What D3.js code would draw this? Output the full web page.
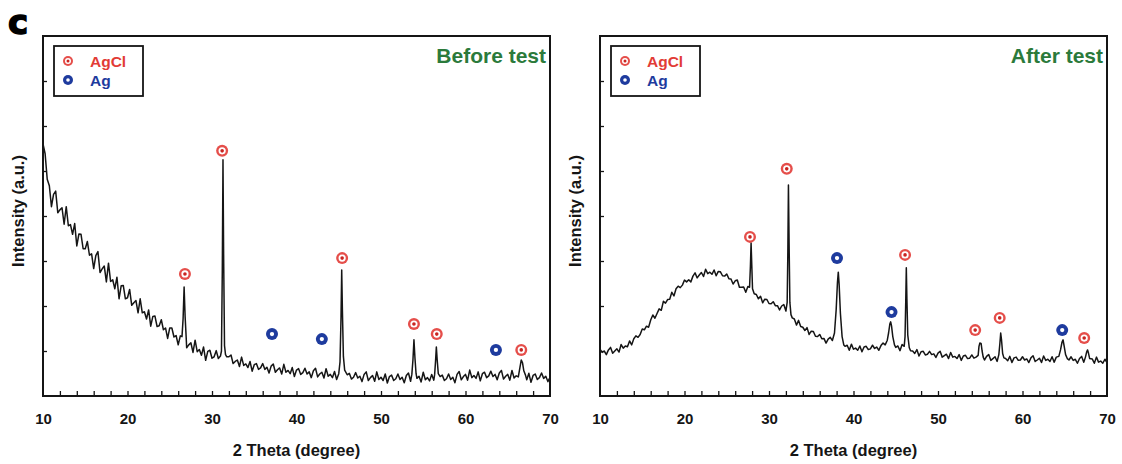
<!DOCTYPE html>
<html>
<head>
<meta charset="utf-8">
<script src="https://cdn.jsdelivr.net/npm/d3@7"></script>
<style>
  html, body { margin: 0; padding: 0; background: #fff; }
  svg text { font-family: "Liberation Sans", Arial, sans-serif; font-weight: bold; }
</style>
</head>
<body>
<svg id="chart" width="1122" height="464"></svg>
<script>
// XRD scans: [2 theta, intensity (a.u.)]
const beforeScan = [[10,70.0],[10.25,67.3],[10.5,60.2],[10.75,58.4],[11,52.6],[11.25,56.0],[11.5,56.9],[11.75,50.9],[12,51.7],[12.25,52.3],[12.5,47.7],[12.75,52.6],[13,47.3],[13.25,47.6],[13.5,44.9],[13.75,47.9],[14,41.7],[14.25,45.0],[14.5,44.9],[14.75,40.9],[15,40.9],[15.25,42.9],[15.5,39.1],[15.75,39.5],[16,35.4],[16.25,39.0],[16.5,40.1],[16.75,34.3],[17,35.3],[17.25,36.1],[17.5,31.7],[17.75,36.9],[18,31.8],[18.25,32.3],[18.5,29.8],[18.75,33.0],[19,27.0],[19.25,30.6],[19.5,30.7],[19.75,27.0],[20,27.3],[20.25,29.6],[20.5,25.2],[20.75,25.9],[21,26.5],[21.25,23.1],[21.5,27.0],[21.75,23.1],[22,23.4],[22.25,21.4],[22.5,23.9],[22.75,19.4],[23,22.1],[23.25,22.2],[23.5,19.3],[23.75,19.5],[24,21.2],[24.25,18.4],[24.5,18.9],[24.75,16.0],[25,18.9],[25.25,18.9],[25.5,16.4],[25.75,16.8],[26,14.2],[26.25,16.7],[26.45,16.5],[26.58,21.5],[26.7,30.3],[26.82,22.0],[26.95,16.0],[27,13.4],[27.25,14.2],[27.5,14.8],[27.75,12.1],[28,15.5],[28.25,12.3],[28.5,12.9],[28.75,11.3],[29,13.6],[29.25,9.9],[29.5,12.4],[29.75,12.7],[30,10.5],[30.25,10.9],[30.5,12.6],[30.75,10.4],[31,11.1],[31.12,12.5],[31.22,35.0],[31.3,65.6],[31.38,38.0],[31.48,14.0],[31.6,11.5],[31.75,10.9],[32,10.9],[32.25,11.4],[32.5,9.0],[32.75,9.6],[33,10.0],[33.25,8.2],[33.5,10.8],[33.75,8.5],[34,8.9],[34.25,7.9],[34.5,9.6],[34.75,6.9],[35,8.7],[35.25,9.0],[35.5,7.4],[35.75,7.8],[36,9.0],[36.25,7.4],[36.5,8.0],[36.75,6.4],[37,8.3],[37.25,8.9],[37.5,6.6],[37.75,7.3],[38,7.8],[38.25,6.1],[38.5,8.8],[38.75,6.6],[39,7.1],[39.25,6.2],[39.5,7.9],[39.75,5.4],[40,7.2],[40.25,7.6],[40.5,6.0],[40.75,6.5],[41,7.7],[41.25,6.1],[41.5,6.7],[41.75,5.1],[42,7.0],[42.25,7.7],[42.5,5.3],[42.75,6.1],[43,6.6],[43.25,5.0],[43.5,7.6],[43.75,5.5],[44,6.0],[44.25,5.1],[44.5,6.8],[44.75,4.6],[45,6.2],[45.15,9.5],[45.27,22.0],[45.35,35.0],[45.43,24.0],[45.55,11.0],[45.7,7.2],[46,5.9],[46.25,6.3],[46.5,4.7],[46.75,5.2],[47,6.5],[47.25,5.0],[47.5,5.5],[47.75,4.0],[48,6.0],[48.25,6.7],[48.5,4.3],[48.75,5.1],[49,5.7],[49.25,4.1],[49.5,6.7],[49.75,4.6],[50,5.2],[50.25,4.3],[50.5,6.1],[50.75,3.6],[51,5.4],[51.25,5.8],[51.5,4.3],[51.75,4.8],[52,6.1],[52.25,4.6],[52.5,5.2],[52.75,3.7],[53,5.7],[53.25,6.4],[53.5,4.1],[53.65,6.0],[53.78,10.0],[53.9,15.6],[54.02,10.5],[54.15,6.2],[54.25,4.9],[54.5,5.5],[54.75,3.9],[55,6.6],[55.25,4.5],[55.5,5.1],[55.75,4.2],[56,6.0],[56.25,4.4],[56.35,6.0],[56.45,9.5],[56.55,13.6],[56.65,10.0],[56.78,6.2],[57,5.4],[57.25,5.8],[57.5,4.3],[57.75,4.8],[58,6.1],[58.25,4.6],[58.5,5.2],[58.75,3.7],[59,6.0],[59.25,6.8],[59.5,4.5],[59.75,5.4],[60,6.0],[60.25,4.4],[60.5,7.2],[60.75,5.1],[61,5.7],[61.25,4.9],[61.5,6.7],[61.75,4.2],[62,6.2],[62.25,6.6],[62.5,5.1],[62.75,5.6],[63,6.9],[63.25,5.4],[63.5,6.0],[63.75,4.5],[64,6.4],[64.25,7.1],[64.5,4.7],[64.75,5.5],[65,6.0],[65.25,4.4],[65.5,7.1],[65.75,5.0],[66,5.6],[66.25,5.3],[66.45,8.0],[66.6,10.0],[66.75,9.2],[66.9,7.0],[67.1,5.8],[67.25,4.5],[67.5,6.3],[67.75,3.8],[68,5.7],[68.25,6.1],[68.5,4.6],[68.75,5.1],[69,6.4],[69.25,4.9],[69.5,5.5],[69.75,4.0],[70,5.2]];

const afterScan = [[10,13.0],[10.25,12.1],[10.5,12.5],[10.75,11.5],[11,12.8],[11.25,13.5],[11.5,11.9],[11.75,12.5],[12,13.1],[12.25,12.2],[12.5,14.3],[12.75,13.3],[13,13.9],[13.25,13.7],[13.5,15.3],[13.75,14.2],[14,15.9],[14.25,16.7],[14.5,16.3],[14.75,17.1],[15,18.6],[15.25,18.4],[15.5,19.4],[15.75,19.1],[16,21.1],[16.25,22.5],[16.5,21.6],[16.75,22.9],[17,24.2],[17.25,23.8],[17.5,26.3],[17.75,25.8],[18,26.8],[18.25,26.9],[18.5,28.8],[18.75,27.8],[19,29.8],[19.25,30.5],[19.5,30.1],[19.75,30.8],[20,32.2],[20.25,31.7],[20.5,32.3],[20.75,31.7],[21,33.3],[21.25,34.2],[21.5,32.8],[21.75,33.6],[22,34.3],[22.25,33.2],[22.5,35.2],[22.75,34.0],[23,34.4],[23.25,33.8],[23.5,35.0],[23.75,33.4],[24,34.6],[24.25,34.5],[24.5,33.4],[24.75,33.3],[25,33.9],[25.25,32.6],[25.5,32.5],[25.75,31.1],[26,32.0],[26.25,32.2],[26.5,30.2],[26.75,30.2],[27,30.3],[27.25,28.8],[27.5,30.4],[27.7,30.2],[27.8,36.0],[27.88,42.5],[27.96,36.5],[28.05,29.8],[28.25,28.4],[28.5,28.2],[28.75,27.0],[29,27.7],[29.25,25.9],[29.5,26.9],[29.75,26.8],[30,25.7],[30.25,25.6],[30.5,26.2],[30.75,25.1],[31,25.1],[31.25,23.9],[31.5,25.0],[31.75,25.4],[32,23.6],[32.15,26.0],[32.23,40.0],[32.3,58.6],[32.38,42.0],[32.47,26.0],[32.6,22.6],[32.75,21.7],[33,21.4],[33.25,19.7],[33.5,21.0],[33.75,19.3],[34,19.1],[34.25,18.2],[34.5,19.0],[34.75,17.1],[35,18.0],[35.25,17.9],[35.5,16.6],[35.75,16.5],[36,17.1],[36.25,15.9],[36.5,16.0],[36.75,14.7],[37,15.8],[37.25,16.3],[37.5,15.4],[37.75,17.5],[37.95,24.0],[38.1,31.5],[38.2,34.4],[38.3,31.0],[38.45,23.0],[38.65,16.5],[38.85,14.2],[39,13.8],[39.25,14.1],[39.5,12.7],[39.75,14.4],[40,13.0],[40.25,13.3],[40.5,12.7],[40.75,13.9],[41,12.3],[41.25,13.6],[41.5,13.8],[41.75,12.9],[42,13.1],[42.25,14.1],[42.5,13.2],[42.75,13.6],[43,12.7],[43.25,14.0],[43.5,14.7],[43.75,14.2],[44,15.5],[44.15,17.5],[44.3,20.0],[44.4,20.6],[44.5,19.5],[44.65,16.5],[44.85,14.2],[45,13.5],[45.25,13.9],[45.5,12.6],[45.75,14.3],[46,13.8],[46.1,16.5],[46.18,26.0],[46.25,35.6],[46.32,27.0],[46.42,17.0],[46.6,13.4],[46.75,12.6],[47,12.5],[47.25,11.8],[47.5,12.9],[47.75,11.1],[48,12.3],[48.25,12.4],[48.5,11.4],[48.75,11.6],[49,12.4],[49.25,11.5],[49.5,11.7],[49.75,10.7],[50,11.9],[50.25,12.4],[50.5,10.8],[50.75,11.2],[51,11.6],[51.25,10.4],[51.5,12.1],[51.75,10.8],[52,11.0],[52.25,10.4],[52.5,11.5],[52.75,9.9],[53,11.1],[53.25,11.3],[53.5,10.4],[53.75,10.5],[54,11.4],[54.25,10.5],[54.5,10.8],[54.75,11.3],[54.85,13.8],[54.95,14.7],[55.1,14.6],[55.22,12.5],[55.35,10.8],[55.5,10.0],[55.75,11.0],[56,11.5],[56.25,9.9],[56.5,10.4],[56.75,10.9],[57,9.6],[57.2,11.5],[57.32,14.5],[57.42,17.5],[57.52,15.5],[57.65,11.8],[57.8,10.6],[58,10.4],[58.25,9.8],[58.5,11.0],[58.75,9.3],[59,10.6],[59.25,10.8],[59.5,9.9],[59.75,10.0],[60,10.9],[60.25,10.0],[60.5,10.3],[60.75,9.3],[61,10.6],[61.25,11.2],[61.5,9.6],[61.75,10.0],[62,10.5],[62.25,9.3],[62.5,11.1],[62.75,9.9],[63,10.2],[63.25,9.6],[63.5,10.9],[63.75,9.4],[64,10.8],[64.3,11.0],[64.5,12.8],[64.68,15.0],[64.8,15.6],[64.92,14.0],[65.1,11.5],[65.3,10.4],[65.5,10.0],[65.75,10.9],[66,9.9],[66.25,10.2],[66.5,9.1],[66.75,10.4],[67,11.0],[67.25,9.4],[67.45,10.8],[67.6,12.3],[67.7,12.8],[67.8,12.0],[67.95,10.4],[68.25,10.3],[68.5,9.1],[68.75,10.8],[69,9.4],[69.25,9.7],[69.5,9.1],[69.75,10.2],[70,9.3]];

// phase labels placed above the reflections
const beforeMarks = [
  {phase: "AgCl", theta: 26.8, level: 33.9},
  {phase: "AgCl", theta: 31.2, level: 68.1},
  {phase: "Ag",   theta: 37.1, level: 17.2},
  {phase: "Ag",   theta: 43.0, level: 15.8},
  {phase: "AgCl", theta: 45.4, level: 38.3},
  {phase: "AgCl", theta: 53.9, level: 20.0},
  {phase: "AgCl", theta: 56.6, level: 17.2},
  {phase: "Ag",   theta: 63.6, level: 12.8},
  {phase: "AgCl", theta: 66.6, level: 12.8}
];
const afterMarks = [
  {phase: "AgCl", theta: 27.75, level: 44.2},
  {phase: "AgCl", theta: 32.1, level: 63.1},
  {phase: "Ag",   theta: 38.05, level: 38.3},
  {phase: "Ag",   theta: 44.5, level: 23.3},
  {phase: "AgCl", theta: 46.1, level: 39.2},
  {phase: "AgCl", theta: 54.4, level: 18.3},
  {phase: "AgCl", theta: 57.3, level: 21.7},
  {phase: "Ag",   theta: 64.7, level: 18.3},
  {phase: "AgCl", theta: 67.3, level: 16.1}
];

const phases = ["AgCl", "Ag"];
const panelTitles = ["Before test", "After test"];
const xTickLabels = [10, 20, 30, 40, 50, 60, 70];
const xMinorTicks = d3.range(12, 70, 2);
const yTicks = [12.5, 25, 37.5, 50, 62.5, 75, 87.5];

const colors = {AgCl: "#e23b36", Ag: "#1e3b9e", title: "#2b7a3b", ink: "#151515"};

const svg = d3.select("#chart");
const dims = {width: 507, height: 360, top: 36, lefts: [43, 600]};

const y = d3.scaleLinear().domain([0, 100]).range([dims.top + dims.height, dims.top]);

function drawMarker(g, phase, r) {
    if (phase === "AgCl") {
        g.append("circle").attr("r", r).attr("fill", colors.AgCl).attr("opacity", 0.9);
        g.append("circle").attr("r", r * 0.6).attr("fill", "#fff");
        g.append("circle").attr("r", r * 0.3).attr("fill", "#c92420");
    } else {
        g.append("circle").attr("r", r).attr("fill", colors.Ag);
        g.append("circle").attr("r", r * 0.36).attr("fill", "#fff");
    }
}

const scans = [beforeScan, afterScan];
const marks = [beforeMarks, afterMarks];

scans.forEach((scan, i) => {
    const left = dims.lefts[i];
    const x = d3.scaleLinear().domain([10, 70]).range([left, left + dims.width]);
    const g = svg.append("g");

    // trace
    g.append("path")
        .datum(scan)
        .attr("d", d3.line().x(d => x(d[0])).y(d => y(d[1])))
        .attr("fill", "none")
        .attr("stroke", colors.ink)
        .attr("stroke-width", 1.5)
        .attr("stroke-linejoin", "round");

    // inward minor ticks on the bottom
    g.append("g")
        .attr("transform", `translate(0,${dims.top + dims.height})`)
        .call(d3.axisBottom(x).tickValues(xMinorTicks).tickSize(-5).tickFormat(""))
        .call(a => a.select(".domain").remove())
        .call(a => a.selectAll(".tick line").attr("stroke", colors.ink).attr("stroke-width", 1.3));

    // labels
    g.append("g")
        .attr("transform", `translate(0,${dims.top + dims.height})`)
        .call(d3.axisBottom(x).tickValues(xTickLabels).tickSize(0).tickPadding(17))
        .call(a => a.select(".domain").remove())
        .call(a => a.selectAll(".tick text").style("font-size", "15px").attr("fill", colors.ink));

    // inward y ticks, no labels
    g.append("g")
        .attr("transform", `translate(${left},0)`)
        .call(d3.axisLeft(y).tickValues(yTicks).tickSize(-4).tickFormat(""))
        .call(a => a.select(".domain").remove())
        .call(a => a.selectAll(".tick line").attr("stroke", colors.ink).attr("stroke-width", 1.3));

    // frame
    g.append("rect")
        .attr("x", left).attr("y", dims.top)
        .attr("width", dims.width).attr("height", dims.height)
        .attr("fill", "none").attr("stroke", colors.ink).attr("stroke-width", 2);

    // phase markers
    g.selectAll("g.mark")
        .data(marks[i])
        .join("g")
        .attr("class", "mark")
        .attr("transform", d => `translate(${x(d.theta)},${y(d.level)})`)
        .each(function (d) { drawMarker(d3.select(this), d.phase, 6); });

    // legend
    const lg = g.append("g").attr("transform", `translate(${left + 11},46)`);
    lg.append("rect").attr("width", 89).attr("height", 50)
        .attr("fill", "#fff").attr("stroke", colors.ink).attr("stroke-width", 1.8);
    phases.forEach((ph, k) => {
        const row = lg.append("g").attr("transform", `translate(14,${15 + k * 19})`);
        drawMarker(row, ph, 5);
        row.append("text").attr("x", 22).attr("dy", "0.36em")
            .style("font-size", "15.5px").attr("fill", colors[ph]).text(ph);
    });

    // panel title
    g.append("text")
        .attr("x", left + dims.width - 4).attr("y", 63)
        .attr("text-anchor", "end")
        .style("font-size", "21px").attr("fill", colors.title)
        .text(panelTitles[i]);

    // axis titles
    g.append("text")
        .attr("x", left + dims.width / 2).attr("y", 456)
        .attr("text-anchor", "middle")
        .style("font-size", "16.5px").attr("fill", colors.ink)
        .text("2 Theta (degree)");

    g.append("text")
        .attr("transform", `translate(${left - 25},211) rotate(-90)`)
        .attr("text-anchor", "middle").attr("dy", "0.35em")
        .style("font-size", "16.5px").attr("fill", colors.ink)
        .text("Intensity (a.u.)");
});

// panel letter
svg.append("text")
    .attr("x", 8).attr("y", 34)
    .style("font-family", "'DejaVu Sans', sans-serif")
    .style("font-size", "34px").style("font-weight", "900")
    .attr("fill", "#000").attr("stroke", "#000").attr("stroke-width", 1.5)
    .text("c");
</script>
</body>
</html>
